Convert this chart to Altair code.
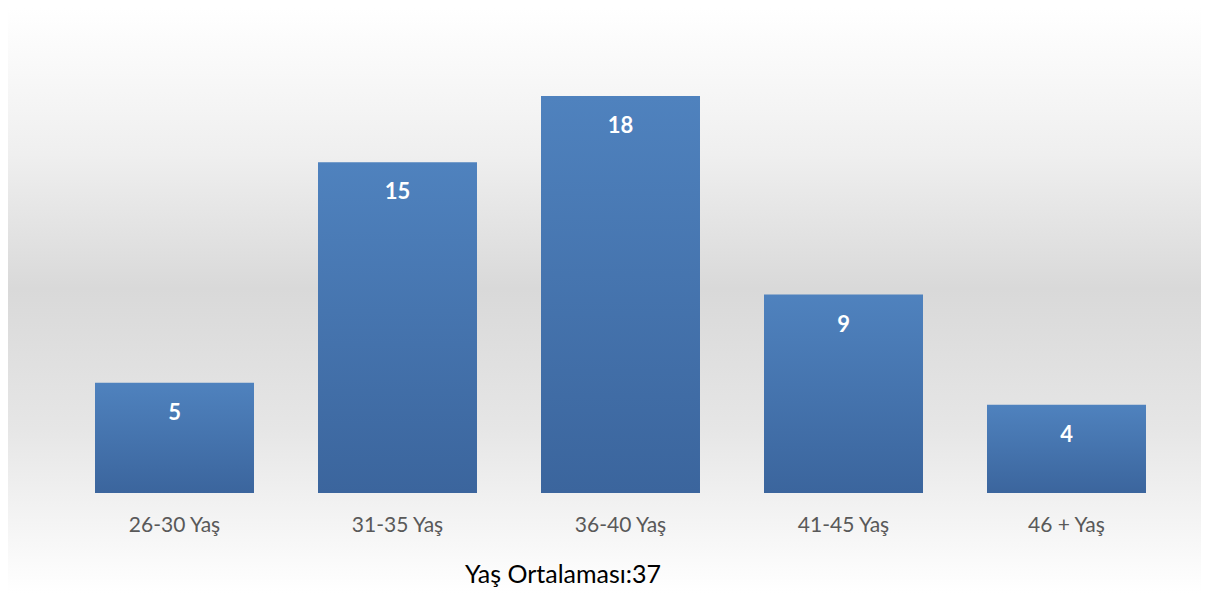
import altair as alt
import pandas as pd

categories = ["26-30 Yaş", "31-35 Yaş", "36-40 Yaş", "41-45 Yaş", "46 + Yaş"]
values = [5, 15, 18, 9, 4]
footer_text = ["Yaş Ortalaması:37"]

df = pd.DataFrame({"kategori": categories, "sayi": values})
FONT = "Lato"

x_enc = alt.X(
    "kategori:N",
    sort=categories,
    title=None,
    scale=alt.Scale(paddingInner=0.287, paddingOuter=0.1435),
    axis=alt.Axis(
        labelAngle=0, domain=False, ticks=False, labelPadding=21,
        labelFontSize=21, labelColor="#595959", labelFont=FONT, zindex=2,
    ),
)
y_enc = alt.Y(
    "sayi:Q",
    title=None,
    scale=alt.Scale(domain=[0, 20], nice=False),
    axis=None,
)

bg = alt.Chart(pd.DataFrame({"a": [0]})).mark_rect(
    fill=alt.Gradient(
        gradient="linear", x1=0, x2=0, y1=0, y2=1,
        stops=[
            alt.GradientStop(offset=0.0, color="#FFFFFF"),
            alt.GradientStop(offset=0.08, color="#FAFAFA"),
            alt.GradientStop(offset=0.25, color="#EFEFEF"),
            alt.GradientStop(offset=0.48, color="#D9D9D9"),
            alt.GradientStop(offset=0.72, color="#E6E6E6"),
            alt.GradientStop(offset=0.9, color="#F6F6F6"),
            alt.GradientStop(offset=1.0, color="#FFFFFF"),
        ],
    ),
).encode(
    x=alt.value(-55), x2=alt.value(1115 + 23),
    y=alt.value(-44), y2=alt.value(441 + 100),
)

bars = alt.Chart(df).mark_bar(
    fill=alt.Gradient(
        gradient="linear", x1=0, x2=0, y1=0, y2=1,
        stops=[
            alt.GradientStop(offset=0.0, color="#4F82BE"),
            alt.GradientStop(offset=1.0, color="#3B659D"),
        ],
    ),
).encode(x=x_enc, y=y_enc)

labels = alt.Chart(df).mark_text(
    color="white", fontWeight="bold", fontSize=22, font=FONT, dy=30, baseline="middle",
).encode(x=x_enc, y=y_enc, text="sayi:Q")

footer = alt.Chart(pd.DataFrame({"t": footer_text})).mark_text(
    color="#000000", fontSize=25, font=FONT, baseline="alphabetic", align="center",
).encode(x=alt.value(500), y=alt.value(531), text="t:N")

chart = alt.layer(bg, bars, labels, footer).properties(
    width=1115, height=441,
    padding={"left": 55, "top": 44, "right": 23, "bottom": 100},
    autosize=alt.AutoSizeParams(type="none"),
).configure_view(stroke=None)

chart.save("out.html", embed_options={"renderer": "svg", "actions": False})
